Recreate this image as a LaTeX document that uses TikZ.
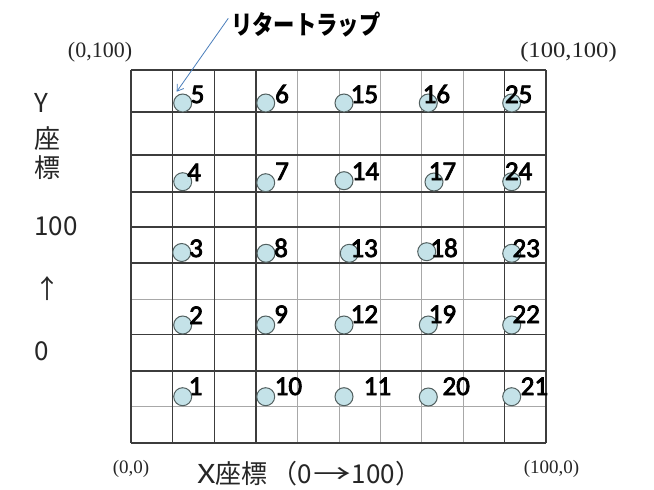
\documentclass[tikz,border=0pt]{standalone}
\usepackage{fontspec}
\usetikzlibrary{arrows.meta}
\newfontfamily\jpfont{Noto Sans CJK JP}
\newfontfamily\calfont[FakeBold=3]{Carlito}
\newfontfamily\serfont{Liberation Serif}
\definecolor{gridDark}{HTML}{3C3C3C}
\definecolor{gridLight}{HTML}{A8A8A8}
\definecolor{trapFill}{HTML}{C4E2E8}
\definecolor{trapLine}{HTML}{526060}
\definecolor{arrowBlue}{HTML}{4A7EBB}
\definecolor{axisGray}{HTML}{262626}
\tikzset{
  darkline/.style={draw=gridDark, line width=1.3pt},
  lightline/.style={draw=gridLight, line width=0.9pt},
  trap/.style={circle, draw=trapLine, fill=trapFill, line width=1pt, minimum size=18pt, inner sep=0pt},
  numlabel/.style={anchor=base west, inner sep=0pt, font=\calfont\fontsize{27}{27}\selectfont},
  axistext/.style={anchor=west, inner sep=0pt, text=axisGray, font=\jpfont\fontsize{26}{26}\selectfont},
  coordtext/.style={inner sep=0pt, text=axisGray, font=\serfont\fontsize{22}{22}\selectfont},
  coordsmall/.style={inner sep=0pt, text=axisGray, font=\serfont\fontsize{19}{19}\selectfont},
}
\begin{document}
\begin{tikzpicture}[x=1pt, y=-1pt]
\useasboundingbox (0,0) rectangle (654,490);
\fill[white] (0,0) rectangle (654,490);
% grid: light lines
\foreach \gx in {297.5,339,380.5,421.5,463} \draw[lightline] (\gx,70) -- (\gx,443);
\foreach \gy in {299,406} \draw[lightline] (131,\gy) -- (546,\gy);
% grid: dark lines
\foreach \gx in {131,172.5,214.5,256,504.5,546} \draw[darkline] (\gx,70) -- (\gx,443);
\foreach \gy in {70,112,155,192,227,263,334.5,371,443} \draw[darkline] (131,\gy) -- (546,\gy);
% traps and labels
\foreach \n/\cx/\cy/\lx/\ly in {
  5/182.7/103/190.5/103, 6/265.7/103/275/103, 15/344/103/350.5/103, 16/428.3/103/422.5/103, 25/511.7/103/504.7/103,
  4/182.7/181.7/187/181, 7/265.7/182.7/275/180, 14/344/180.7/351.5/180, 17/434/182/428.5/180, 24/511.7/181.7/504.7/180,
  3/181.7/252.5/189/257, 8/266/253.3/274/257, 13/349.3/253.3/350.2/257, 18/426.7/251.7/430.2/257, 23/511.7/253.3/512.3/257,
  2/182.7/325/189/324, 9/265.7/325/274/323, 12/344/325/350.5/323, 19/428.3/325/428.5/323, 22/511.7/325/512.3/323,
  1/182.7/396.7/188.5/395, 10/265.7/396.7/274.5/395, 11/344/396.7/363.5/395, 20/428.3/397/442.3/395, 21/511.7/396.7/520.5/395}
{
  \node[trap] (c\n) at (\cx,\cy) {};
}
\foreach \n/\cx/\cy/\lx/\ly in {
  5/182.7/103/190.5/103, 6/265.7/103/275/103, 15/344/103/350.5/103, 16/428.3/103/422.5/103, 25/511.7/103/504.7/103,
  4/182.7/181.7/187/181, 7/265.7/182.7/275/180, 14/344/180.7/351.5/180, 17/434/182/428.5/180, 24/511.7/181.7/504.7/180,
  3/181.7/252.5/189/257, 8/266/253.3/274/257, 13/349.3/253.3/350.2/257, 18/426.7/251.7/430.2/257, 23/511.7/253.3/512.3/257,
  2/182.7/325/189/324, 9/265.7/325/274/323, 12/344/325/350.5/323, 19/428.3/325/428.5/323, 22/511.7/325/512.3/323,
  1/182.7/396.7/188.5/395, 10/265.7/396.7/274.5/395, 11/344/396.7/363.5/395, 20/428.3/397/442.3/395, 21/511.7/396.7/520.5/395}
{
  \node[numlabel] (l\n) at (\lx,\ly) {\n};
}
% corner coordinates
\node[coordtext] (tl) at (100,52) {(0,100)};
\node[coordtext] (tr) at (568.5,52) {\scalebox{1.12}[1]{(100,100)}};
\node[coordsmall] (bl) at (131,468.5) {(0,0)};
\node[coordsmall] (br) at (551.5,468.5) {(100,0)};
% axis texts
\node[axistext] (ya) at (34,102.5) {Y};
\node[axistext] (yb) at (34,139) {座};
\node[axistext] (yc) at (34,167.5) {標};
\node[axistext] (yd) at (34,226) {100};
\node[axistext] (ye) at (34,288.5) {↑};
\node[axistext] (yf) at (34,351) {0};
\node[axistext, font=\jpfont\fontsize{26}{26}\selectfont] (xa) at (197,473.5)
  {\scalebox{1.25}[1]{X}座標\hspace{4pt}（0\hspace{1pt}\scalebox{1.45}[1]{→}\hspace{1pt}100）};
% title and arrow
\node[anchor=west, inner sep=0pt, font=\jpfont\bfseries\fontsize{26}{26}\selectfont] (title) at (231,24.5)
  {\scalebox{0.82}[1]{リタートラップ}};
\coordinate (arrS) at (228.3,18.3);
\coordinate (arrE) at (176.7,91.7);
\draw[arrowBlue, line width=0.8pt, -{Straight Barb[length=6pt,width=8pt]}] (arrS) -- (arrE);
\end{tikzpicture}
\end{document}
